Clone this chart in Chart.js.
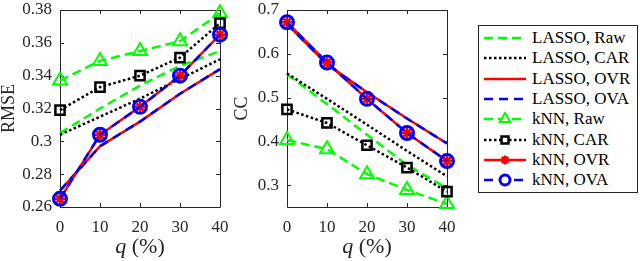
<!DOCTYPE html>
<html>
<head>
<meta charset="utf-8">
<script src="https://cdn.jsdelivr.net/npm/chart.js@4.4.0/dist/chart.umd.min.js"></script>
<style>
  html, body { margin: 0; padding: 0; background: #fff; }
  #wrap { position: relative; width: 640px; height: 261px; overflow: hidden; }
  canvas { position: absolute; top: 0; }
  #rmseChart { left: 0; }
  #ccChart { left: 232px; }
  #legend { position: absolute; left: 478px; top: 25px; width: 158px; height: 166px;
    border: 1px solid #262626; background: #fff;
    font-family: 'Liberation Serif', 'Times New Roman', serif; font-size: 17px; color: #000; }
  .row { position: absolute; left: 0; width: 158px; height: 20px; white-space: nowrap; }
  .row svg { position: absolute; left: 0; top: 0; }
  .row span { position: absolute; left: 53px; top: 0; line-height: 20px; }
</style>
</head>
<body>
<div id="wrap">
  <canvas id="rmseChart" width="232" height="261"></canvas>
  <canvas id="ccChart" width="228" height="261"></canvas>
  <div id="legend"></div>
</div>
<script>
// x values (q in %) and tick labels
const qValues = [0, 10, 20, 30, 40];
const qTickLabels = ['0', '10', '20', '30', '40'];

const seriesNames = ['LASSO, Raw', 'LASSO, CAR', 'LASSO, OVR', 'LASSO, OVA',
                     'kNN, Raw', 'kNN, CAR', 'kNN, OVR', 'kNN, OVA'];

// RMSE panel
const rmseLassoRaw = [0.305, 0.320, 0.334, 0.346, 0.355];
const rmseLassoCar = [0.304, 0.315, 0.326, 0.338, 0.350];
const rmseLassoOvr = [0.270, 0.297, 0.312, 0.329, 0.344];
const rmseLassoOva = [0.270, 0.297, 0.312, 0.329, 0.344];
const rmseKnnRaw = [0.337, 0.349, 0.355, 0.361, 0.378];
const rmseKnnCar = [0.319, 0.333, 0.340, 0.351, 0.372];
const rmseKnnOvr = [0.265, 0.304, 0.321, 0.340, 0.365];
const rmseKnnOva = [0.265, 0.304, 0.321, 0.340, 0.365];
const rmseTickValues = [0.26, 0.28, 0.30, 0.32, 0.34, 0.36, 0.38];
const rmseTickLabels = ['0.26', '0.28', '0.3', '0.32', '0.34', '0.36', '0.38'];

// CC panel
const ccLassoRaw = [0.553, 0.485, 0.415, 0.346, 0.293];
const ccLassoCar = [0.555, 0.497, 0.438, 0.378, 0.320];
const ccLassoOvr = [0.668, 0.576, 0.512, 0.452, 0.395];
const ccLassoOva = [0.668, 0.576, 0.512, 0.452, 0.395];
const ccKnnRaw = [0.403, 0.382, 0.325, 0.289, 0.257];
const ccKnnCar = [0.473, 0.442, 0.391, 0.340, 0.285];
const ccKnnOvr = [0.672, 0.580, 0.497, 0.419, 0.355];
const ccKnnOva = [0.672, 0.580, 0.497, 0.419, 0.355];
const ccTickValues = [0.3, 0.4, 0.5, 0.6, 0.7];
const ccTickLabels = ['0.3', '0.4', '0.5', '0.6', '0.7'];

const FONT = "'Liberation Serif', 'Times New Roman', serif";
const AXIS_COLOR = '#262626';

// line / marker look for each series
const seriesStyles = [
  { color: '#00ff00', dash: [9, 5], marker: false },
  { color: '#000000', dash: [2.5, 2.5], marker: false },
  { color: '#ff0000', dash: [], marker: false },
  { color: '#0000ff', dash: [9, 6], marker: false },
  { color: '#00ff00', dash: [9, 5], marker: 'triangle', radius: 8, bw: 2 },
  { color: '#000000', dash: [2.5, 2.5], marker: 'rect', radius: 6.5, bw: 2.5 },
  { color: '#ff0000', dash: [], marker: 'star', radius: 5, bw: 2.5 },
  { color: '#0000ff', dash: [9, 6], marker: 'circle', radius: 6.5, bw: 3 }
];

function buildDatasets(seriesValues) {
  return seriesValues.map(function(vals, i) {
    const s = seriesStyles[i];
    return {
      label: seriesNames[i],
      data: qValues.map((q, k) => ({ x: q, y: vals[k] })),
      borderColor: s.color,
      borderWidth: 2.5,
      borderDash: s.dash,
      tension: 0,
      fill: false,
      clip: false,
      order: seriesNames.length - i,
      pointStyle: s.marker || 'circle',
      pointRadius: s.marker ? s.radius : 0,
      pointBorderWidth: s.marker ? s.bw : 0,
      pointBorderColor: s.color,
      pointBackgroundColor: 'rgba(0,0,0,0)'
    };
  });
}

// box, inward ticks and the x title with an italic q
const framePlugin = {
  id: 'frame',
  beforeDatasetsDraw(chart) {
    const ctx = chart.ctx;
    const a = chart.chartArea;
    const tl = 4;
    ctx.save();
    ctx.strokeStyle = AXIS_COLOR;
    ctx.lineWidth = 1;
    ctx.beginPath();
    ctx.rect(Math.round(a.left) + 0.5, Math.round(a.top) + 0.5,
             Math.round(a.right - a.left), Math.round(a.bottom - a.top));
    chart.scales.x.ticks.forEach(function(t) {
      const px = Math.round(chart.scales.x.getPixelForValue(t.value)) + 0.5;
      ctx.moveTo(px, a.bottom); ctx.lineTo(px, a.bottom - tl);
      ctx.moveTo(px, a.top); ctx.lineTo(px, a.top + tl);
    });
    chart.scales.y.ticks.forEach(function(t) {
      const py = Math.round(chart.scales.y.getPixelForValue(t.value)) + 0.5;
      ctx.moveTo(a.left, py); ctx.lineTo(a.left + tl, py);
      ctx.moveTo(a.right, py); ctx.lineTo(a.right - tl, py);
    });
    ctx.stroke();
    ctx.restore();
  },
  afterDraw(chart) {
    const ctx = chart.ctx;
    const a = chart.chartArea;
    ctx.save();
    ctx.fillStyle = AXIS_COLOR;
    ctx.textBaseline = 'middle';
    ctx.font = 'italic 22px ' + FONT;
    const w1 = ctx.measureText('q').width;
    ctx.font = '22px ' + FONT;
    const w2 = ctx.measureText(' (%)').width;
    let x = (a.left + a.right) / 2 - (w1 + w2) / 2;
    const y = 247;
    ctx.font = 'italic 22px ' + FONT;
    ctx.fillText('q', x, y);
    ctx.font = '22px ' + FONT;
    ctx.fillText(' (%)', x + w1, y);
    ctx.restore();
  }
};

function makeChart(id, seriesValues, tickValues, tickLabels, yMin, yMax, yTitle, yWidth, padRight, titlePad) {
  return new Chart(document.getElementById(id), {
    type: 'line',
    data: { datasets: buildDatasets(seriesValues) },
    plugins: [framePlugin],
    options: {
      responsive: false,
      animation: false,
      events: [],
      layout: { padding: { left: 0, right: padRight, top: 6, bottom: 0 } },
      plugins: { legend: { display: false }, tooltip: { enabled: false } },
      scales: {
        x: {
          type: 'linear',
          min: 0,
          max: 40,
          grid: { display: false, drawTicks: false },
          border: { display: false },
          afterBuildTicks: function(scale) {
            scale.ticks = qValues.map(v => ({ value: v }));
          },
          afterFit: function(scale) {
            scale.height = 54;
            scale.paddingLeft = 0;
            scale.paddingRight = 0;
          },
          ticks: {
            padding: 10,
            maxRotation: 0,
            color: AXIS_COLOR,
            font: { family: FONT, size: 17 },
            callback: function(value) {
              const k = qValues.indexOf(value);
              return k >= 0 ? qTickLabels[k] : '';
            }
          }
        },
        y: {
          min: yMin,
          max: yMax,
          grid: { display: false, drawTicks: false },
          border: { display: false },
          afterBuildTicks: function(scale) {
            scale.ticks = tickValues.map(v => ({ value: v }));
          },
          afterFit: function(scale) {
            scale.width = yWidth;
            scale.paddingTop = 0;
            scale.paddingBottom = 0;
          },
          title: {
            display: true,
            text: yTitle,
            color: AXIS_COLOR,
            padding: { top: titlePad, bottom: 0 },
            font: { family: FONT, size: 18, lineHeight: 1 }
          },
          ticks: {
            padding: 8,
            color: AXIS_COLOR,
            font: { family: FONT, size: 17 },
            callback: function(value) {
              const k = tickValues.findIndex(v => Math.abs(v - value) < 1e-9);
              return k >= 0 ? tickLabels[k] : '';
            }
          }
        }
      }
    }
  });
}

makeChart('rmseChart',
  [rmseLassoRaw, rmseLassoCar, rmseLassoOvr, rmseLassoOva, rmseKnnRaw, rmseKnnCar, rmseKnnOvr, rmseKnnOva],
  rmseTickValues, rmseTickLabels, 0.26, 0.38, 'RMSE', 60, 12, 0);

makeChart('ccChart',
  [ccLassoRaw, ccLassoCar, ccLassoOvr, ccLassoOva, ccKnnRaw, ccKnnCar, ccKnnOvr, ccKnnOva],
  ccTickValues, ccTickLabels, 0.25, 0.7, 'CC', 55, 13, 1.5);

// legend: sample line + marker, then the text
function markerSvg(s, cx, cy) {
  const c = s.color;
  if (s.marker === 'triangle') {
    const r = 6;
    const pts = [[cx, cy - r], [cx + 0.866 * r, cy + 0.5 * r], [cx - 0.866 * r, cy + 0.5 * r]]
      .map(p => p.join(',')).join(' ');
    return '<polygon points="' + pts + '" fill="#fff" stroke="' + c + '" stroke-width="2"/>';
  }
  if (s.marker === 'rect') {
    return '<rect x="' + (cx - 3.5) + '" y="' + (cy - 3.5) + '" width="7" height="7" fill="#fff" stroke="' + c + '" stroke-width="2.5"/>';
  }
  if (s.marker === 'star') {
    const r = 4.5, d = r * 0.707;
    return '<path d="M' + (cx - r) + ' ' + cy + 'H' + (cx + r) + 'M' + cx + ' ' + (cy - r) + 'V' + (cy + r) +
      'M' + (cx - d) + ' ' + (cy - d) + 'L' + (cx + d) + ' ' + (cy + d) +
      'M' + (cx - d) + ' ' + (cy + d) + 'L' + (cx + d) + ' ' + (cy - d) + '" stroke="' + c + '" stroke-width="2.5"/>';
  }
  if (s.marker === 'circle') {
    return '<circle cx="' + cx + '" cy="' + cy + '" r="5" fill="#fff" stroke="' + c + '" stroke-width="3"/>';
  }
  return '';
}

const legend = document.getElementById('legend');
seriesNames.forEach(function(name, i) {
  const s = seriesStyles[i];
  const row = document.createElement('div');
  row.className = 'row';
  row.style.top = (2 + i * 20.3) + 'px';
  const dash = s.dash.length ? ' stroke-dasharray="' + s.dash.join(' ') + '"' : '';
  row.innerHTML = '<svg width="52" height="20">' +
    '<line x1="5" y1="10" x2="47" y2="10" stroke="' + s.color + '" stroke-width="2.5"' + dash + '/>' +
    markerSvg(s, 26, 10) + '</svg><span>' + name + '</span>';
  legend.appendChild(row);
});
</script>
</body>
</html>
